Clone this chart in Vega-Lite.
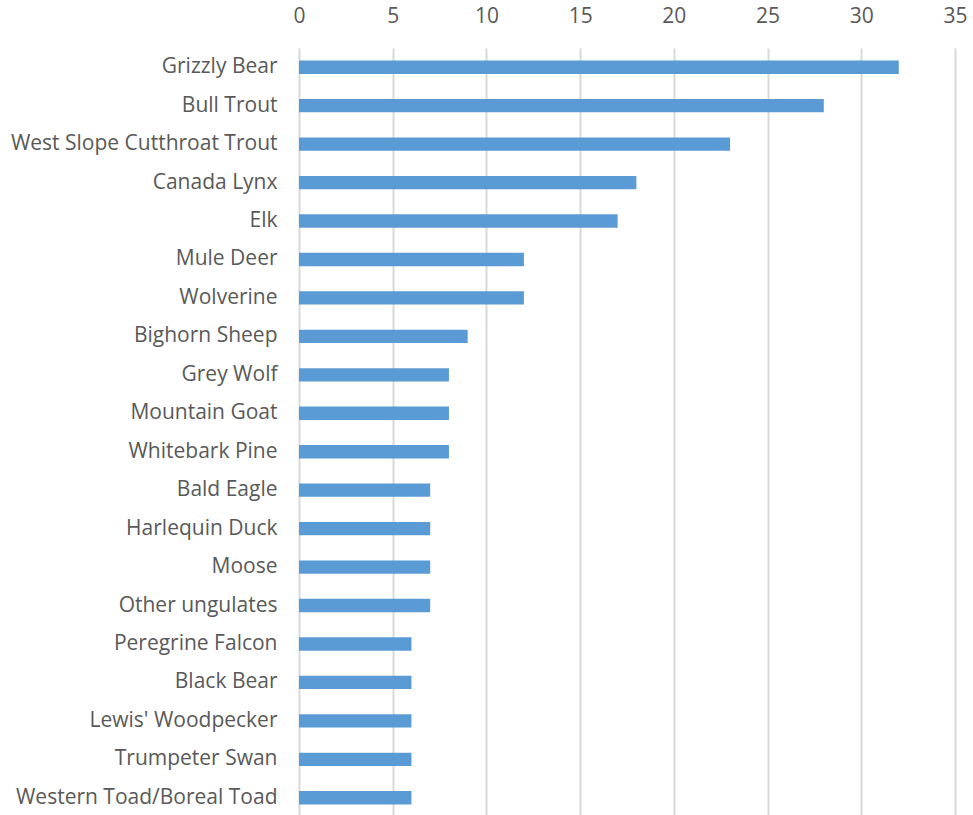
{
  "$schema": "https://vega.github.io/schema/vega-lite/v6.json",
  "width": 656,
  "height": 769,
  "autosize": "none",
  "padding": {"left": 299, "top": 48, "right": 18, "bottom": 0},
  "background": "white",
  "config": {"view": {"stroke": null}, "font": "Open Sans"},
  "data": {"values": [
    {"species": "Grizzly Bear", "count": 32},
    {"species": "Bull Trout", "count": 28},
    {"species": "West Slope Cutthroat Trout", "count": 23},
    {"species": "Canada Lynx", "count": 18},
    {"species": "Elk", "count": 17},
    {"species": "Mule Deer", "count": 12},
    {"species": "Wolverine", "count": 12},
    {"species": "Bighorn Sheep", "count": 9},
    {"species": "Grey Wolf", "count": 8},
    {"species": "Mountain Goat", "count": 8},
    {"species": "Whitebark Pine", "count": 8},
    {"species": "Bald Eagle", "count": 7},
    {"species": "Harlequin Duck", "count": 7},
    {"species": "Moose", "count": 7},
    {"species": "Other ungulates", "count": 7},
    {"species": "Peregrine Falcon", "count": 6},
    {"species": "Black Bear", "count": 6},
    {"species": "Lewis' Woodpecker", "count": 6},
    {"species": "Trumpeter Swan", "count": 6},
    {"species": "Western Toad/Boreal Toad", "count": 6}
  ]},
  "mark": {"type": "bar", "color": "#5B9BD5"},
  "encoding": {
    "y": {
      "field": "species", "type": "nominal", "sort": null,
      "scale": {"paddingInner": 0.654, "paddingOuter": 0.327},
      "axis": {"title": null, "domain": false, "ticks": false, "labelPadding": 22, "labelFontSize": 21, "labelColor": "#595959", "labelFont": "Open Sans", "labelLimit": 400}
    },
    "x": {
      "field": "count", "type": "quantitative",
      "scale": {"domain": [0, 35], "nice": false},
      "axis": {"orient": "top", "title": null, "domain": false, "ticks": false, "values": [0,5,10,15,20,25,30,35], "labelPadding": 22, "labelFontSize": 21, "labelColor": "#595959", "labelFont": "Open Sans", "gridColor": "#d9d9d9", "gridWidth": 2, "labelFlush": false}
    }
  }
}
